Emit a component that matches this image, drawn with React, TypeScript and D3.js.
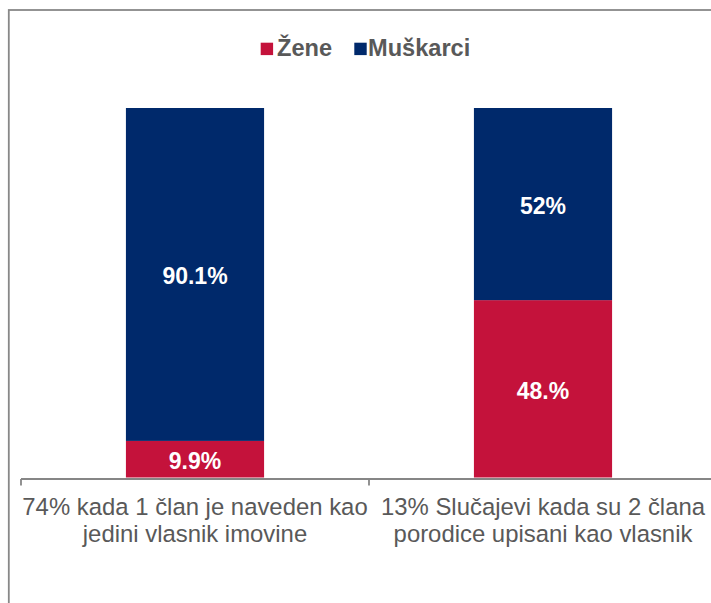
import React from "react";
import * as d3 from "d3";

const categories = ["cat1", "cat2"];
const categoryLines = [
  ["74% kada 1 član je naveden kao", "jedini vlasnik imovine"],
  ["13% Slučajevi kada su 2 člana", "porodice upisani kao vlasnik"],
];
const seriesNames = ["Žene", "Muškarci"];
const zeneValues = [9.9, 48];
const muskarciValues = [90.1, 52];
const zeneLabels = ["9.9%", "48.%"];
const muskarciLabels = ["90.1%", "52%"];
const colors = ["#C4123B", "#00296B"];

const W = 711;
const H = 603;
const FONT = "'Liberation Sans', Arial, sans-serif";

export default function App() {
  const x = d3
    .scaleBand<string>()
    .domain(categories)
    .range([21, 717])
    .paddingInner(0.603)
    .paddingOuter(0.3015);
  const y = d3.scaleLinear().domain([0, 100]).range([477.5, 108]);

  const rows = categories.map((c, i) => ({
    cat: c,
    Žene: zeneValues[i],
    Muškarci: muskarciValues[i],
  }));
  const stack = d3.stack<any>().keys(seriesNames)(rows);
  const labelSets = [zeneLabels, muskarciLabels];

  const step = x.step();
  const tickXs = [21, ...categories.map((c) => (x(c) as number) - (step - x.bandwidth()) / 2 + step)];

  return (
    <svg
      width={W}
      height={H}
      style={{ position: "absolute", left: 0, top: 0, background: "#fff" }}
      fontFamily={FONT}
    >
      <rect x={0} y={0} width={W} height={H} fill="#fff" />
      <rect x={8.8} y={10} width={900} height={800} fill="none" stroke="#888888" strokeWidth={1.8} />

      {/* legend */}
      <rect x={260.7} y={42.7} width={12.4} height={12.4} fill={colors[0]} />
      <text x={277} y={55.7} fontSize={23.6} fontWeight="bold" fill="#595959">
        {seriesNames[0]}
      </text>
      <rect x={354.3} y={42.7} width={12.4} height={12.4} fill={colors[1]} />
      <text x={368} y={55.7} fontSize={23.6} fontWeight="bold" fill="#595959">
        {seriesNames[1]}
      </text>

      {/* bars */}
      {stack.map((layer, si) => (
        <g key={si} fill={colors[si]}>
          {layer.map((d, i) => (
            <rect
              key={i}
              x={x(categories[i])}
              y={y(d[1])}
              width={x.bandwidth()}
              height={y(d[0]) - y(d[1])}
            />
          ))}
        </g>
      ))}

      {/* labels */}
      {stack.map((layer, si) => (
        <g key={"l" + si}>
          {layer.map((d, i) => (
            <text
              key={i}
              x={(x(categories[i]) as number) + x.bandwidth() / 2}
              y={(y(d[0]) + y(d[1])) / 2 + 1.5 + 8.2}
              textAnchor="middle"
              fontSize={23}
              fontWeight="bold"
              fill="#ffffff"
            >
              {labelSets[si][i]}
            </text>
          ))}
        </g>
      ))}

      {/* axis */}
      <line x1={21} x2={W + 10} y1={479} y2={479} stroke="#868686" strokeWidth={1.8} />
      {tickXs.map((t, i) => (
        <line key={i} x1={t} x2={t} y1={479} y2={485.5} stroke="#868686" strokeWidth={1.8} />
      ))}

      {categories.map((c, i) => (
        <text
          key={c}
          x={(x(c) as number) + x.bandwidth() / 2}
          textAnchor="middle"
          fontSize={23.9}
          fill="#595959"
        >
          {categoryLines[i].map((line, li) => (
            <tspan key={li} x={(x(c) as number) + x.bandwidth() / 2} y={515 + li * 27}>
              {line}
            </tspan>
          ))}
        </text>
      ))}
    </svg>
  );
}
